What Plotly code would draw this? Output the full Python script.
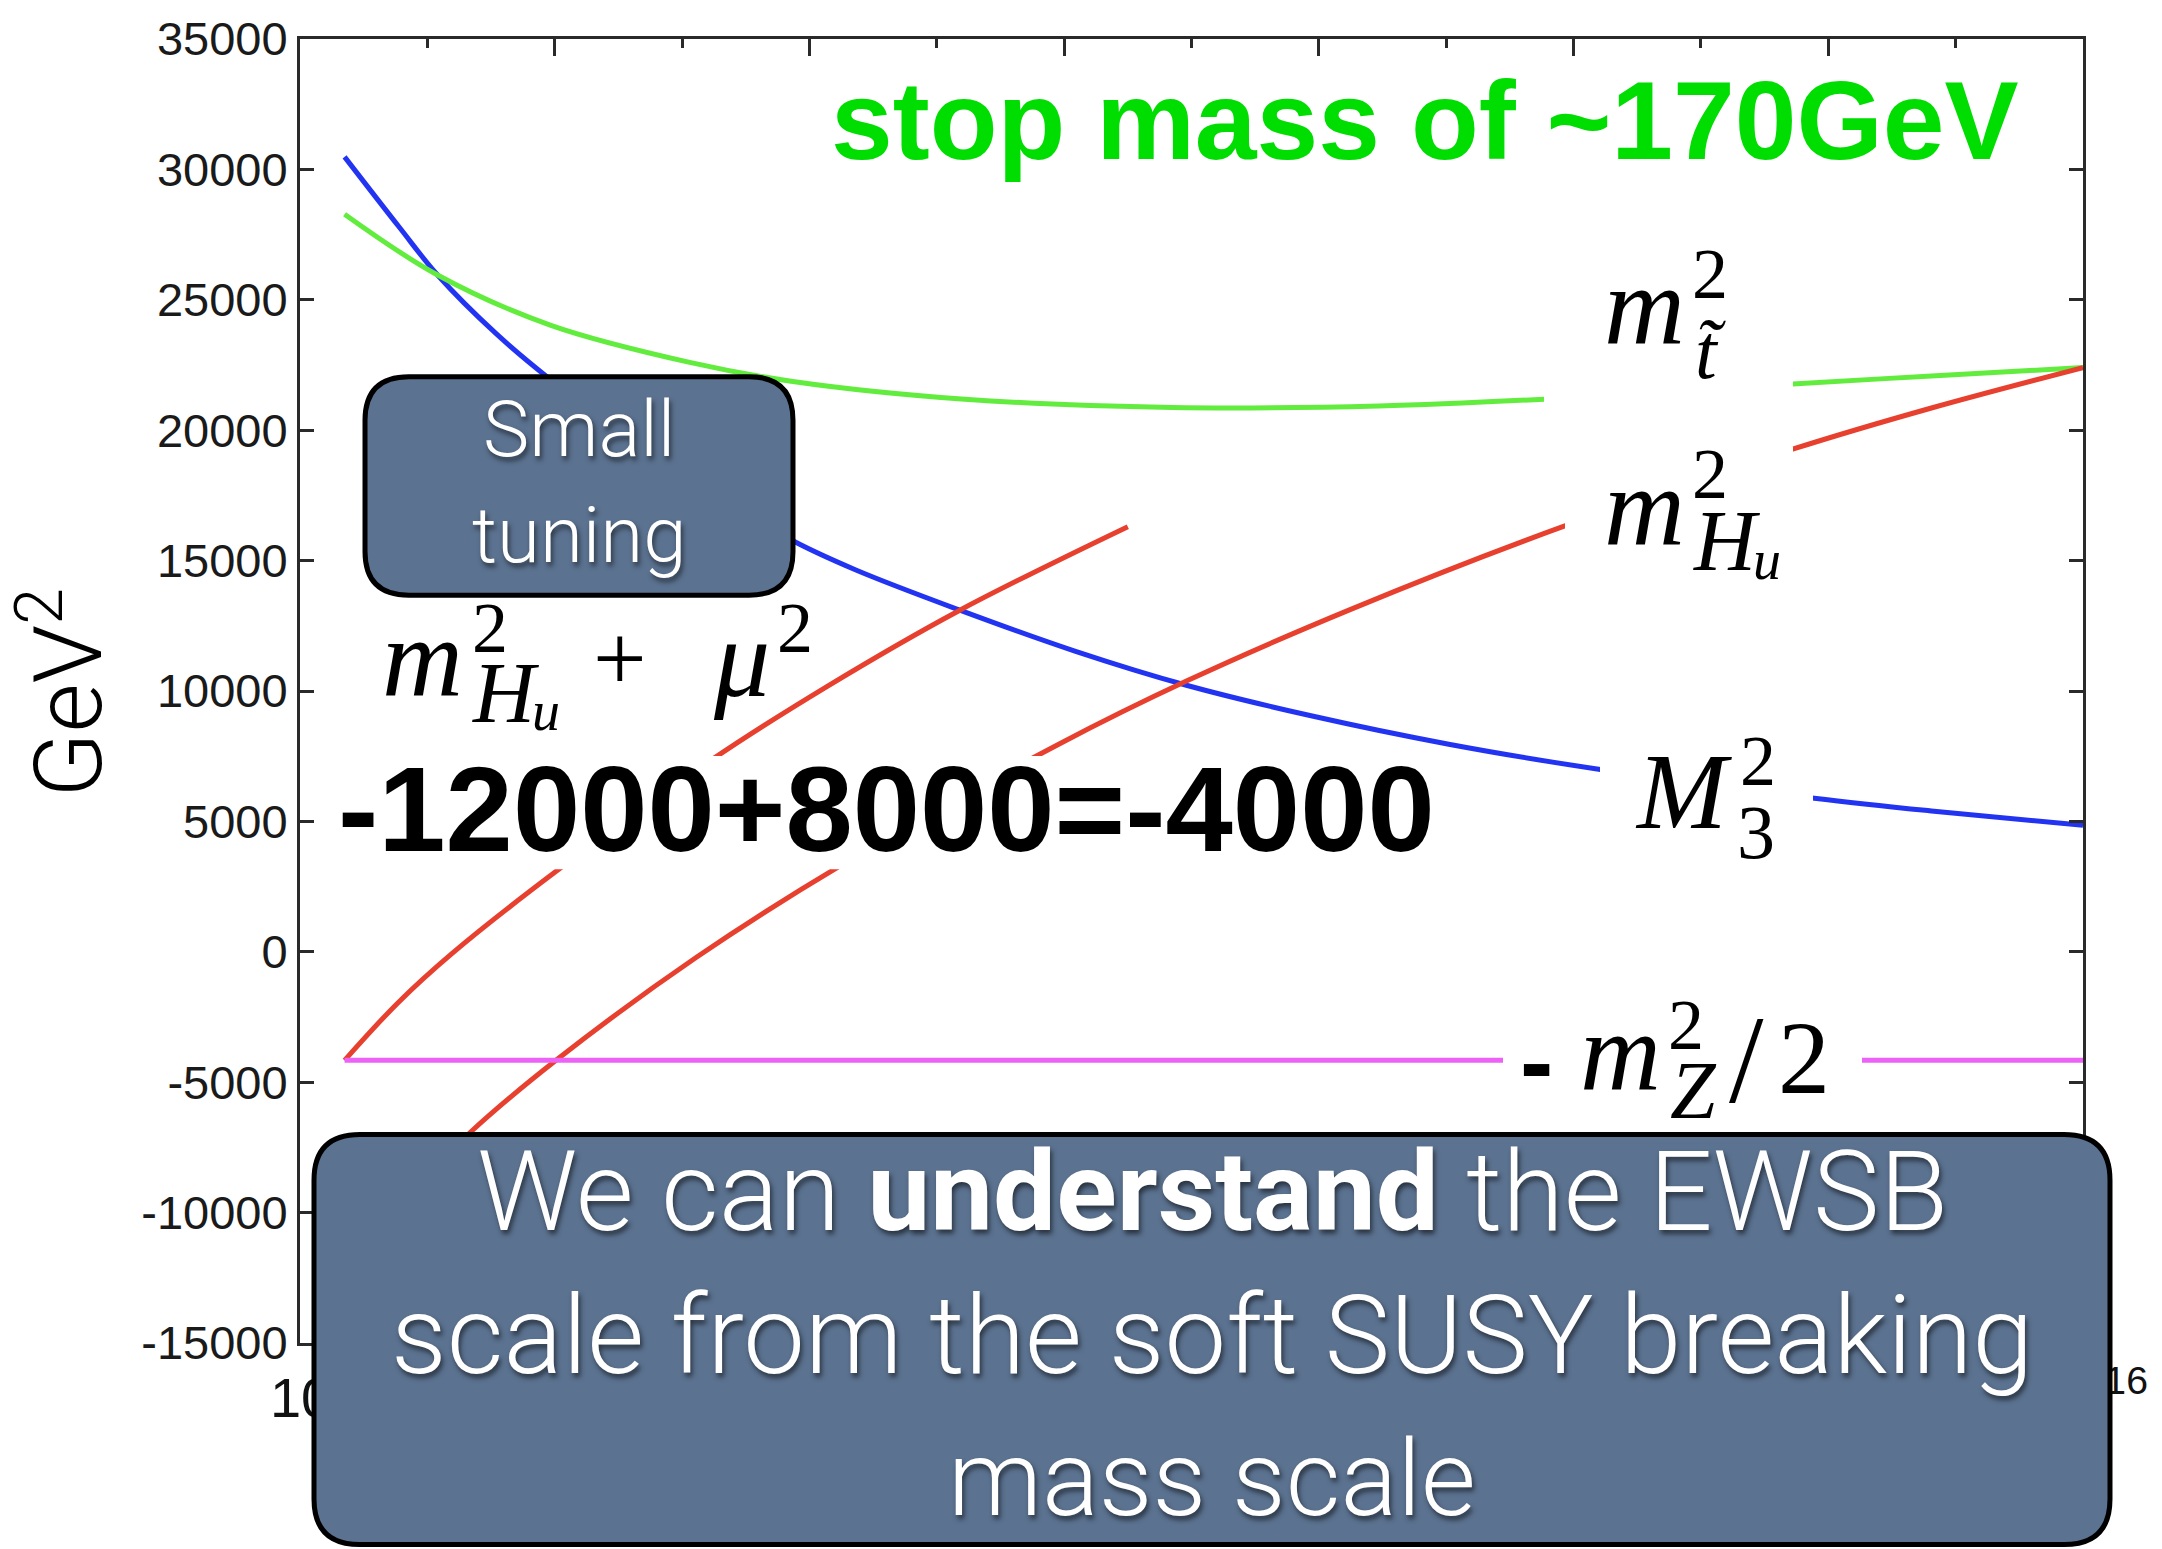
import plotly.graph_objects as go

# ---- running soft masses (GeV^2) vs renormalisation scale log10(Q/GeV) ----
m3_log_q = [2.35, 2.78, 3.08, 3.54, 3.97, 4.90, 5.87, 6.36, 7.17, 8.09, 8.96, 9.93, 11.02, 12.21, 13.89, 14.81, 16.0]
m3_sq = [30480, 27780, 25950, 23700, 21930, 18560, 15760, 14650, 13120, 11520, 10220, 9060, 7960, 6990, 5890, 5400, 4850]

stop_log_q = [2.35, 3.08, 3.97, 5.06, 5.87, 7.22, 8.85, 10.47, 11.77, 13.72, 14.81, 16.0]
stop_sq = [28280, 25950, 24020, 22600, 21870, 21190, 20870, 20930, 21190, 21770, 22080, 22400]

hu_mu_log_q = [2.35, 2.77, 3.19, 4.04, 5.24, 6.14, 7.17, 8.50]
hu_mu_sq = [-4160, -1950, -80, 3190, 7390, 10180, 13070, 16300]

hu_log_q = [2.35, 2.85, 3.34, 4.01, 5.11, 6.26, 7.95, 8.96, 10.25, 11.91, 13.72, 14.81, 16.0]
hu_sq = [-12000, -9330, -6910, -4160, -220, 3350, 7940, 10380, 13130, 16290, 19270, 20850, 22400]

mz_log_q = [2.35, 16.0]
mz_half_sq = [-4158, -4158]

x_major_exp = [2, 4, 6, 8, 10, 12, 14, 16]
x_labelled_exp = [2, 16]          # the inner labels sit under the summary box
x_minor_exp = [3, 5, 7, 9, 11, 13, 15]
y_ticks = [-15000, -10000, -5000, 0, 5000, 10000, 15000, 20000, 25000, 30000, 35000]

# ---- page geometry (px) ----
FIG_W, FIG_H = 2162, 1549
PLOT_L, PLOT_R, PLOT_T, PLOT_B = 300, 2083, 30, 1343
PLOT_W = PLOT_R - PLOT_L
PLOT_H = PLOT_B - PLOT_T


def px_x(x):
    return (x - PLOT_L) / PLOT_W


def px_y(y):
    return (PLOT_B - y) / PLOT_H


fig = go.Figure()

curves = [
    (m3_log_q, m3_sq, "#2234f2"),
    (stop_log_q, stop_sq, "#62ec3e"),
    (hu_mu_log_q, hu_mu_sq, "#e8402f"),
    (hu_log_q, hu_sq, "#e8402f"),
    (mz_log_q, mz_half_sq, "#ec62f6"),
]
for lq, val, col in curves:
    fig.add_trace(go.Scatter(
        x=[10 ** v for v in lq], y=val, mode="lines",
        line=dict(color=col, width=5, shape="spline", smoothing=1.0),
        showlegend=False, hoverinfo="skip"))

shapes = []
annotations = []


def white_patch(x0, y0, x1, y1):
    shapes.append(dict(type="rect", xref="paper", yref="paper",
                       x0=px_x(x0), x1=px_x(x1), y0=px_y(y1), y1=px_y(y0),
                       fillcolor="white", line=dict(width=0), layer="above"))


def rounded_box(x0, y0, x1, y1, r, fill):
    pts = [
        ("M", [(x0 + r, y0)]), ("L", [(x1 - r, y0)]), ("Q", [(x1, y0), (x1, y0 + r)]),
        ("L", [(x1, y1 - r)]), ("Q", [(x1, y1), (x1 - r, y1)]),
        ("L", [(x0 + r, y1)]), ("Q", [(x0, y1), (x0, y1 - r)]),
        ("L", [(x0, y0 + r)]), ("Q", [(x0, y0), (x0 + r, y0)]),
    ]
    path = ""
    for cmd, coords in pts:
        path += cmd + " ".join(f"{px_x(a):.5f},{px_y(b):.5f}" for a, b in coords) + " "
    path += "Z"
    shapes.append(dict(type="path", xref="paper", yref="paper", path=path,
                       fillcolor=fill, line=dict(color="black", width=5), layer="above"))


def text(t, x, baseline, size, family="Liberation Serif", color="black",
         xanchor="center", weight="normal", style="normal", shadow=None):
    font = dict(family=family, size=size, color=color, weight=weight, style=style)
    if shadow:
        font["shadow"] = shadow
    annotations.append(dict(
        text=t, x=px_x(x), y=px_y(baseline - 0.35 * size), xref="paper", yref="paper",
        xanchor=xanchor, yanchor="middle", showarrow=False, borderpad=0, font=font))


# label backgrounds cutting the curves
white_patch(331, 752, 1441, 866)     # equation
white_patch(1544, 250, 1793, 405)    # stop label
white_patch(1565, 440, 1793, 600)    # m_Hu label
white_patch(1600, 720, 1813, 870)    # M3 label
white_patch(1503, 995, 1862, 1125)   # mZ label

BOX_FILL = "#5b7290"
rounded_box(365, 370, 793, 590, 44, BOX_FILL)
rounded_box(314, 1133, 2110, 1546, 46, BOX_FILL)

SHADOW = "2px 4px 5px rgba(0,0,0,0.55)"
BOX_FONT = "Roboto"

# headline
text("stop mass of ~170GeV", 1425, 151, 111, family="Liberation Sans",
     color="#00dd00", weight="bold")

# boxes
text("Small", 579, 450, 78, family=BOX_FONT, color="white", weight=300, shadow=SHADOW)
text("tuning", 579, 557, 78, family=BOX_FONT, color="white", weight=300, shadow=SHADOW)
text("We can <b>understand</b> the EWSB", 1212, 1230, 112, family=BOX_FONT,
     color="white", weight=300, shadow=SHADOW)
text("scale from the soft SUSY breaking", 1212, 1374, 110, family=BOX_FONT,
     color="white", weight=300, shadow=SHADOW)
text("mass scale", 1212, 1517, 106, family=BOX_FONT, color="white", weight=300, shadow=SHADOW)

# equation
text("-12000+8000=-4000", 886, 848, 121, family="Liberation Sans", weight="bold")

# math labels
IT = "italic"
SUP = 72
text("m", 1644, 338, 112, style=IT)
text("2", 1710, 292, SUP)
text("t\u0303", 1710, 372, 78, style=IT)

text("m", 1644, 540, 112, style=IT)
text("2", 1710, 493, SUP)
text("H", 1692, 566, 86, style=IT, xanchor="left")
text("u", 1752, 574, 56, style=IT, xanchor="left")

text("M", 1683, 825, 108, style=IT)
text("2", 1758, 782, SUP)
text("3", 1756, 855, 76)

text("-", 1536, 1067 + 0.27 * 100, 100, family="Liberation Sans", weight="bold")
text("m", 1620, 1089, 112, style=IT)
text("2", 1686, 1048, SUP)
text("Z", 1693, 1117, 82, style=IT)
text("/", 1746, 1102, 124)
text("2", 1804, 1092, 104)

text("m", 422, 692, 112, style=IT)
text("2", 490, 648, SUP)
text("H", 471, 719, 86, style=IT, xanchor="left")
text("u", 531, 726, 56, style=IT, xanchor="left")
text("+", 620, 687, 95)
text("\u03bc", 741, 692, 112, style=IT)
text("2", 795, 648, SUP)

# y-axis title
annotations.append(dict(
    text="GeV<sup>2</sup>", x=px_x(62), y=px_y(688), xref="paper", yref="paper",
    xanchor="center", yanchor="middle", showarrow=False, textangle=-90,
    font=dict(family=BOX_FONT, size=95, color="black", weight=300)))

AX_COLOR = "#2a2a2a"
fig.update_layout(
    width=FIG_W, height=FIG_H,
    margin=dict(l=PLOT_L, r=FIG_W - PLOT_R, t=PLOT_T, b=FIG_H - PLOT_B, pad=0),
    paper_bgcolor="white", plot_bgcolor="white",
    shapes=shapes, annotations=annotations,
    xaxis=dict(
        type="log", range=[2, 16],
        tickmode="array", tickvals=[10 ** e for e in x_major_exp],
        ticktext=[f"10<sup>{e}</sup>" if e in x_labelled_exp else "" for e in x_major_exp],
        ticks="inside", ticklen=17, tickwidth=3, tickcolor=AX_COLOR,
        minor=dict(tickmode="array", tickvals=[10 ** e for e in x_minor_exp],
                   ticks="inside", ticklen=9, tickwidth=3, tickcolor=AX_COLOR, showgrid=False),
        showline=True, linewidth=3, linecolor=AX_COLOR, mirror="ticks",
        showgrid=False, zeroline=False,
        tickfont=dict(family="Liberation Sans", size=56, color="#111"),
        ticklabelstandoff=4, ticklabelshift=12,
    ),
    yaxis=dict(
        range=[-15000, 35000],
        tickmode="array", tickvals=y_ticks, ticktext=[str(v) for v in y_ticks],
        ticks="inside", ticklen=14, tickwidth=3, tickcolor=AX_COLOR,
        showline=True, linewidth=3, linecolor=AX_COLOR, mirror="ticks",
        showgrid=False, zeroline=False,
        tickfont=dict(family="Liberation Sans", size=47, color="#1a1a1a"),
        ticklabelstandoff=0,
    ),
)

fig.write_html("out.html")
